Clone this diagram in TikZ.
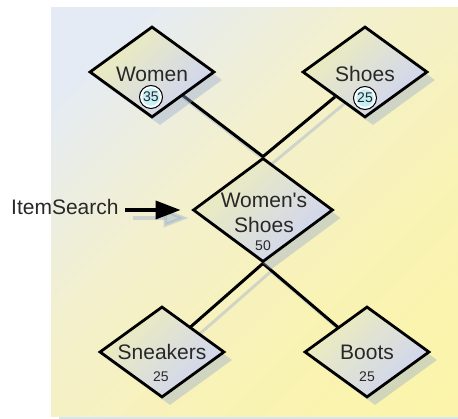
\documentclass[tikz,border=0pt]{standalone}
\usepackage{fontspec}
\setmainfont{Liberation Sans}
\usetikzlibrary{shapes.geometric,shadows,arrows.meta}
\pgfdeclarelayer{bg}
\pgfdeclarelayer{lines}
\pgfsetlayers{bg,lines,main}
\definecolor{bgblue}{RGB}{228,235,245}
\definecolor{bgcream}{RGB}{243,240,206}
\definecolor{bgmid}{RGB}{249,243,180}
\definecolor{bgyellow}{RGB}{253,245,162}
\pgfdeclareverticalshading{bgshade}{100bp}{color(0bp)=(bgyellow); color(36bp)=(bgmid); color(58bp)=(bgcream); color(78bp)=(bgblue); color(100bp)=(bgblue)}
\definecolor{dY}{RGB}{238,238,186}
\definecolor{dB}{RGB}{206,212,242}
\definecolor{shadowc}{RGB}{150,170,205}
\definecolor{txt}{RGB}{40,40,40}
\definecolor{badgecyan}{RGB}{198,240,248}
\definecolor{stripc}{RGB}{216,230,240}
\tikzset{
  dmd/.style={diamond, draw=black, line width=2.8pt, top color=dY, bottom color=dB,
    shading angle=45, inner sep=0pt, minimum width=125pt, minimum height=91pt,
    drop shadow={shadow xshift=8pt, shadow yshift=-8pt, fill=shadowc, opacity=0.4}},
  lbl/.style={font=\fontsize{21}{25}\selectfont, text=txt, inner sep=0pt},
  num/.style={font=\fontsize{14}{16}\selectfont, text=txt, inner sep=0pt},
  badge/.style={circle, draw=black, line width=1pt, fill=white, minimum size=23pt, inner sep=0pt,
    font=\fontsize{14}{16}\selectfont, text=txt,
    path picture={\fill[badgecyan] (path picture bounding box.center) circle (8.8pt);}},
  conn/.style={line width=3pt, draw=black},
  connshadow/.style={line width=3pt, draw=shadowc, opacity=0.4},
  arr/.style={line width=3.6pt, -{Triangle[length=25pt,width=18pt]}},
}
\begin{document}
\begin{tikzpicture}[x=1pt,y=-1pt]
\useasboundingbox (0,0) rectangle (458,419);
% diamonds
\node[dmd] (women) at (152,72) {};
\node[dmd] (shoes) at (365,72) {};
\node[dmd, minimum width=140pt, minimum height=104pt] (ws) at (263,210) {};
\node[dmd] (sneakers) at (162,352) {};
\node[dmd] (boots) at (367,352) {};
% labels
\node[lbl, anchor=base] (tWomen) at (152,82) {Women};
\node[badge] (bWomen) at (151,97) {35};
\node[lbl, anchor=base] (tShoes) at (365,82) {Shoes};
\node[badge] (bShoes) at (365,98) {25};
\node[lbl, anchor=base] (tWs1) at (264,208) {Women\textquotesingle s};
\node[lbl, anchor=base] (tWs2) at (264,233) {Shoes};
\node[num, anchor=base] (nWs) at (263,251) {50};
\node[lbl, anchor=base] (tSneak) at (162,360) {Sneakers};
\node[num, anchor=base] (nSneak) at (161,382) {25};
\node[lbl, anchor=base] (tBoots) at (367,360) {Boots};
\node[num, anchor=base] (nBoots) at (367,382) {25};
\node[lbl, anchor=base west] (item) at (11,215) {ItemSearch};
% arrow
\draw[arr, shorten <=6pt, shorten >=11pt] (item.east |- ws.west) -- (ws.west);
% connectors
\begin{pgfonlayer}{lines}
\draw[conn] (women.center) -- (ws.north);
\draw[conn] (shoes.center) -- (ws.north);
\draw[conn] (ws.south) -- (sneakers.center);
\draw[conn] (ws.south) -- (boots.center);
\end{pgfonlayer}
% background and shadows
\begin{pgfonlayer}{bg}
\fill[stripc] (59,411) rectangle (458,419);
\shade[shading=bgshade, shading angle=45] (51,8) rectangle (458,417);
\begin{scope}[transform canvas={shift={(8pt,-8pt)}}]
\draw[connshadow] (women.center) -- (ws.north);
\draw[connshadow] (shoes.center) -- (ws.north);
\draw[connshadow] (ws.south) -- (sneakers.center);
\draw[connshadow] (ws.south) -- (boots.center);
\draw[arr, draw=shadowc, fill=shadowc, opacity=0.4, shorten <=6pt, shorten >=11pt] (item.east |- ws.west) -- (ws.west);
\end{scope}
\end{pgfonlayer}
\end{tikzpicture}
\end{document}
